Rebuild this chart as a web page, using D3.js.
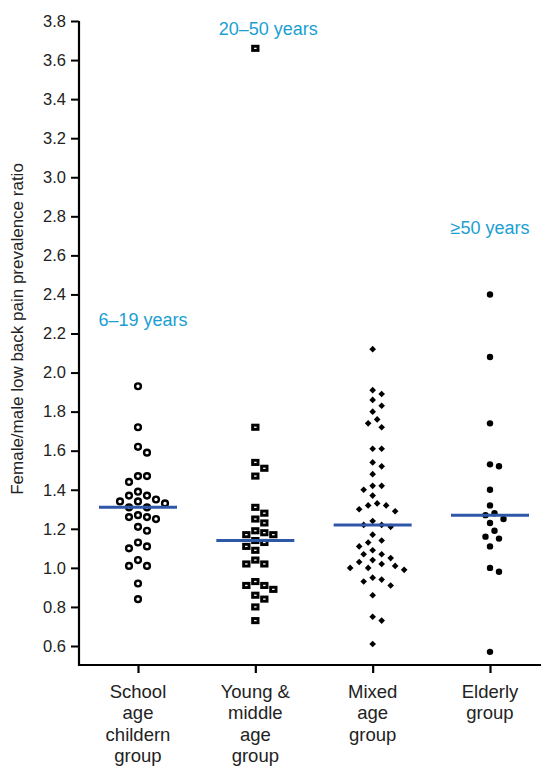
<!DOCTYPE html>
<html lang="en">
<head>
<meta charset="UTF-8">
<title>Female/male low back pain prevalence ratio</title>
<script src="https://cdn.jsdelivr.net/npm/d3@7"></script>
<style>
  body { margin: 0; background: #fff; }
  text { font-family: "Liberation Sans", Arial, Helvetica, sans-serif; }
</style>
</head>
<body>
<svg width="545" height="767"></svg>
<script>
// groups on the x axis
const categories = ["School age childern group", "Young & middle age group", "Mixed age group", "Elderly group"]
const catLines = [["School", "age", "childern", "group"], ["Young &", "middle", "age", "group"], ["Mixed", "age", "group"], ["Elderly", "group"]]
const ageNotes = ["6–19 years", "20–50 years", "", "≥50 years"]

// ratio values, one array per group
const schoolAge = [1.93, 1.72, 1.62, 1.59, 1.47, 1.44, 1.47, 1.39, 1.37, 1.35, 1.37, 1.34, 1.33, 1.31, 1.31,
  1.34, 1.27, 1.26, 1.25, 1.26, 1.19, 1.21, 1.11, 1.10, 1.13, 1.04, 1.01, 1.01, 0.92, 0.84]
const youngMiddle = [3.66, 1.72, 1.54, 1.51, 1.47, 1.31, 1.28, 1.25, 1.23, 1.18, 1.17, 1.19, 1.17, 1.14, 1.13,
  1.11, 1.09, 1.04, 1.02, 1.02, 0.93, 0.91, 0.91, 0.89, 0.86, 0.84, 0.80, 0.73]
const mixedAge = [2.12, 1.91, 1.89, 1.86, 1.83, 1.80, 1.76, 1.74, 1.72, 1.61, 1.61, 1.54, 1.52, 1.48, 1.42,
  1.42, 1.40, 1.37, 1.32, 1.33, 1.32, 1.30, 1.29, 1.24, 1.21, 1.22, 1.22, 1.17, 1.14, 1.11, 1.13, 1.09, 1.07,
  1.05, 1.04, 1.07, 1.02, 1.00, 0.99, 1.00, 1.01, 1.03, 0.95, 0.93, 0.91, 0.94, 0.86, 0.75, 0.73, 0.61]
const elderly = [2.40, 2.08, 1.74, 1.53, 1.52, 1.40, 1.32, 1.27, 1.28, 1.23, 1.25, 1.19, 1.15, 1.16, 1.11,
  1.00, 0.98, 0.57]
const groupMeans = [1.31, 1.14, 1.22, 1.27]

const yTicks = d3.range(0.6, 3.81, 0.2)

// ---- layout
const svg = d3.select('svg')
const axisX = 79, axisBottom = 665, axisRight = 541
const y = d3.scaleLinear().domain([0.6, 3.8]).range([646, 21])
const x = d3.scalePoint().domain(categories).range([138, 490])
const blue = '#2f57a8', noteBlue = '#1a9fd2'

// y axis
const gy = svg.append('g')
  .attr('transform', `translate(${axisX},0)`)
  .call(d3.axisLeft(y).tickValues(yTicks).tickFormat(d3.format('.1f')).tickSize(8).tickPadding(5))
gy.select('.domain').remove()
gy.selectAll('.tick line').attr('stroke', '#000').attr('stroke-width', 2)
gy.selectAll('.tick text').attr('font-size', 16.5).attr('fill', '#222')
  .attr('font-family', '"Liberation Sans", Arial, sans-serif')

// x axis
const gx = svg.append('g')
  .attr('transform', `translate(0,${axisBottom})`)
  .call(d3.axisBottom(x).tickSize(8).tickFormat(''))
gx.select('.domain').remove()
gx.selectAll('.tick line').attr('stroke', '#000').attr('stroke-width', 2.2)

svg.append('path')
  .attr('d', `M${axisX},${y(3.8)}V${axisBottom}H${axisRight}`)
  .attr('fill', 'none').attr('stroke', '#000').attr('stroke-width', 2.2)

// category labels (multi line)
categories.forEach((c, i) => {
  const t = svg.append('text')
    .attr('x', x(c)).attr('y', 698)
    .attr('text-anchor', 'middle').attr('font-size', 18.5).attr('fill', '#222')
  catLines[i].forEach((ln, j) => {
    t.append('tspan').attr('x', x(c)).attr('dy', j === 0 ? 0 : 21.3).text(ln)
  })
})

// y axis title
svg.append('text')
  .attr('transform', `translate(23,329) rotate(-90)`)
  .attr('text-anchor', 'middle').attr('font-size', 17).attr('fill', '#222')
  .text('Female/male low back pain prevalence ratio')

// simple beeswarm: place each point at the nearest free offset from the centre
function swarm(values, diam, step) {
  const placed = []
  const order = values.map((v, i) => i).sort((a, b) => values[b] - values[a])
  order.forEach(i => {
    const py = y(values[i])
    for (let k = 0; k < 40; k++) {
      const off = (k % 2 === 0 ? -1 : 1) * Math.ceil(k / 2) * step
      const hit = placed.some(p => Math.hypot(p.dx - off, p.py - py) < diam)
      if (!hit) { placed.push({ v: values[i], dx: off, py: py }); break }
    }
  })
  return placed
}

const groups = [schoolAge, youngMiddle, mixedAge, elderly]

groups.forEach((vals, gi) => {
  const cx = x(categories[gi])
  const pts = swarm(vals, 8.4, 4.5)
  const g = svg.append('g')
  if (gi === 0) {
    g.selectAll('circle').data(pts).enter().append('circle')
      .attr('cx', d => cx + d.dx).attr('cy', d => d.py).attr('r', 2.9)
      .attr('fill', '#fff').attr('stroke', '#000').attr('stroke-width', 2.4)
  } else if (gi === 1) {
    g.selectAll('rect').data(pts).enter().append('rect')
      .attr('x', d => cx + d.dx - 2.7).attr('y', d => d.py - 2.1)
      .attr('width', 5.4).attr('height', 4.2)
      .attr('fill', '#fff').attr('stroke', '#000').attr('stroke-width', 2.9)
  } else if (gi === 2) {
    g.selectAll('path').data(pts).enter().append('path')
      .attr('d', d3.symbol().type(d3.symbolSquare).size(22))
      .attr('transform', d => `translate(${cx + d.dx},${d.py}) rotate(45)`)
      .attr('fill', '#000')
  } else {
    g.selectAll('circle').data(pts).enter().append('circle')
      .attr('cx', d => cx + d.dx).attr('cy', d => d.py).attr('r', 3.2)
      .attr('fill', '#000')
  }
})

// mean lines
svg.selectAll('.mean').data(groupMeans).enter().append('line')
  .attr('class', 'mean')
  .attr('x1', (d, i) => x(categories[i]) - 39).attr('x2', (d, i) => x(categories[i]) + 39)
  .attr('y1', d => y(d)).attr('y2', d => y(d))
  .attr('stroke', blue).attr('stroke-width', 3)

// age range notes
const noteAt = [{ v: 2.27, dx: 5 }, { v: 3.76, dx: 13 }, null, { v: 2.74, dx: 0 }]
ageNotes.forEach((n, i) => {
  if (!n) return
  svg.append('text')
    .attr('x', x(categories[i]) + noteAt[i].dx).attr('y', y(noteAt[i].v) + 6)
    .attr('text-anchor', 'middle').attr('font-size', 18).attr('fill', noteBlue)
    .text(n)
})
</script>
</body>
</html>
